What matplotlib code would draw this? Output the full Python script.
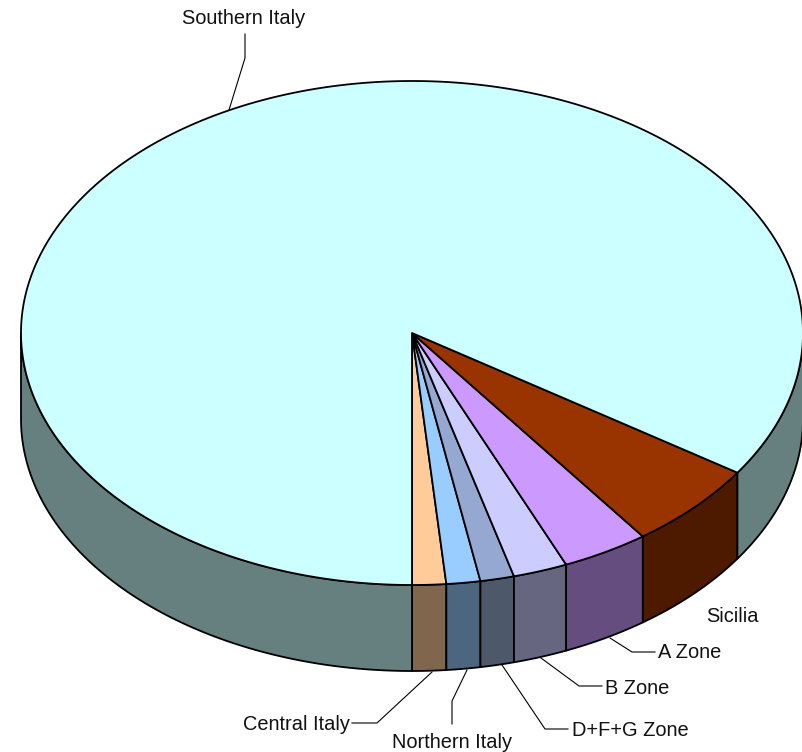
import numpy as np
import matplotlib
matplotlib.use('Agg')
import matplotlib.pyplot as plt
from matplotlib.patches import Polygon

plt.rcParams['font.family'] = ['Liberation Sans', 'DejaVu Sans']

# starting at the front of the pie, going counter clockwise (percent)
names = ['Central Italy', 'Northern Italy', 'D+F+G Zone', 'B Zone', 'A Zone', 'Sicilia', 'Southern Italy']
shares = [1.4, 1.4, 1.4, 2.25, 3.6, 5.6, 84.35]
topColors = ['#FFCC99', '#99CCFF', '#94A8D1', '#CCCCFF', '#CC99FF', '#993300', '#CCFFFF']
sideColors = ['#80664D', '#4D6680', '#4D5868', '#666680', '#664D80', '#4D1A00', '#668080']

# label text position and leader line, pixels
labelPos = [(296, 725), (452, 743), (630, 731), (637, 688), (690, 653), (732, 617), (244, 19)]
leaders = [
    [(352, 723), (377, 723), (432, 672)],
    [(452, 724), (452, 701), (467, 670)],
    [(568, 729), (545, 729), (502, 665)],
    [(602, 686), (579, 686), (541, 658)],
    [(655, 652), (632, 652), (610, 638)],
    None,
    [(245, 34), (245, 58), (229, 110)],
]

cx, cy = 412, 333
rx, ry = 391, 252
depth = 86


def rim(a0, a1, n=200):
    t = np.radians(np.linspace(a0, a1, n))
    return cx + rx * np.sin(t), cy + ry * np.cos(t)


fig = plt.figure(figsize=(8.03, 7.52), dpi=100)
ax = fig.add_axes([0, 0, 1, 1])
ax.set_xlim(0, 803)
ax.set_ylim(752, 0)
ax.axis('off')

edges = np.concatenate([[0], np.cumsum(shares)]) * 3.6

# the side wall, only the front half of the rim can be seen
for i in range(len(shares)):
    a0, a1 = edges[i], min(edges[i + 1], 360)
    for lo, hi in [(a0, min(a1, 90)), (max(a0, 270), a1)]:
        if hi <= lo:
            continue
        x, y = rim(lo, hi)
        pts = np.concatenate([np.column_stack([x, y]), np.column_stack([x, y + depth])[::-1]])
        ax.add_patch(Polygon(pts, closed=True, fc=sideColors[i], ec='black', lw=1.3, joinstyle='round', zorder=2))

# top of the pie
for i in range(len(shares)):
    x, y = rim(edges[i], edges[i + 1], 600)
    pts = np.concatenate([[(cx, cy)], np.column_stack([x, y])])
    ax.add_patch(Polygon(pts, closed=True, fc=topColors[i], ec='black', lw=1.3, joinstyle='round', zorder=3))

for i in range(len(names)):
    ax.text(labelPos[i][0], labelPos[i][1], names[i], fontsize=14.4, color='#111111', ha='center', va='center', zorder=5)
    if leaders[i] is not None:
        ax.plot([p[0] for p in leaders[i]], [p[1] for p in leaders[i]], color='black', lw=0.8, zorder=4)

fig.savefig('out.png', dpi=100)
